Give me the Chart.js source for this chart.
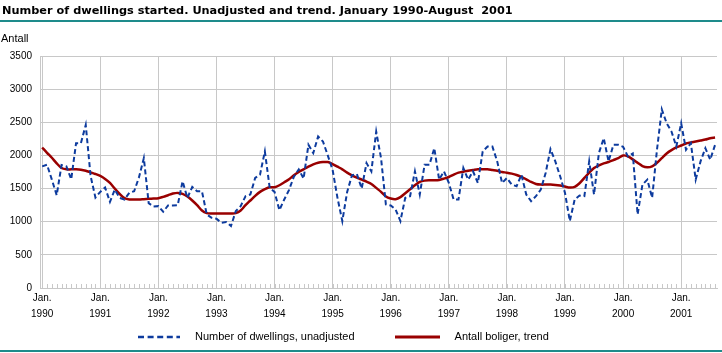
<!DOCTYPE html>
<html>
<head>
<meta charset="utf-8">
<script src="https://cdn.jsdelivr.net/npm/chart.js@4.4.1/dist/chart.umd.min.js"></script>
<style>
    html, body { margin: 0; padding: 0; background: #fff; }
    #wrap { position: relative; width: 722px; height: 353px; overflow: hidden; font-family: "Liberation Sans", Arial, sans-serif; color: #000; }
    #title { position: absolute; left: 2px; top: 4px; font-family: "DejaVu Sans", sans-serif; font-size: 11.3px; font-weight: bold; white-space: pre; }
    #ruleTop { position: absolute; left: 0; top: 20px; width: 722px; height: 2px; background: #1e8b8b; }
    #unit { position: absolute; left: 1px; top: 32px; font-size: 11px; }
    #ruleBottom { position: absolute; left: 0; top: 350px; width: 722px; height: 2px; background: #1e8b8b; }
    #chartBox { position: absolute; left: 0; top: 0; width: 722px; height: 353px; }
    #legend { position: absolute; left: 138px; top: 330px; display: flex; align-items: center; font-size: 11px; line-height: 13px; white-space: nowrap; }
    #legend svg { display: block; }
    #legend .gap { margin-left: 15px; }
    #legend .next { margin-left: 40px; }
</style>
</head>
<body>
<div id="wrap">
    <div id="chartBox"><canvas id="dwellings-chart"></canvas></div>
    <div id="title">Number of dwellings started. Unadjusted and trend. January 1990-August  2001</div>
    <div id="ruleTop"></div>
    <div id="unit">Antall</div>
    <div id="legend"></div>
    <div id="ruleBottom"></div>
</div>
<script>
// ==========================================
// DWELLINGS STARTED - UNADJUSTED AND TREND
// ==========================================

// Tick labels (one per January)
const yearLabels = ['1990', '1991', '1992', '1993', '1994', '1995', '1996', '1997', '1998', '1999', '2000', '2001'];
const monthLabel = 'Jan.';

// Series names
const seriesNames = ['Number of dwellings, unadjusted', 'Antall boliger, trend'];

// Monthly values, Jan 1990 - Aug 2001
const unadjusted = [
    1835, 1860, 1635, 1400, 1855, 1835, 1640, 2185, 2185, 2460, 1690, 1365, // 1990
    1450, 1515, 1300, 1485, 1360, 1335, 1435, 1460, 1670, 1960, 1280, 1230, // 1991
    1235, 1150, 1245, 1245, 1250, 1610, 1360, 1525, 1460, 1460, 1110, 1060, // 1992
    1045, 985, 995, 935, 1160, 1235, 1385, 1410, 1660, 1710, 2060, 1510,     // 1993
    1450, 1175, 1335, 1480, 1680, 1790, 1650, 2160, 2035, 2285, 2210, 2000, // 1994
    1780, 1360, 1010, 1450, 1700, 1720, 1500, 1885, 1760, 2360, 1960, 1260, // 1995
    1245, 1185, 1010, 1360, 1385, 1760, 1410, 1860, 1860, 2110, 1635, 1760, // 1996
    1585, 1335, 1335, 1810, 1635, 1760, 1585, 2060, 2135, 2135, 1910, 1585, // 1997
    1660, 1560, 1535, 1710, 1410, 1310, 1385, 1485, 1735, 2095, 1910, 1685, // 1998
    1435, 1010, 1335, 1395, 1385, 1910, 1410, 2035, 2260, 1910, 2160, 2160, // 1999
    2130, 1985, 2030, 1110, 1560, 1635, 1360, 2085, 2695, 2485, 2360, 2135, // 2000
    2485, 2085, 2185, 1635, 1910, 2110, 1935, 2160                          // 2001
];

const trend = [
    2120, 2040, 1965, 1880, 1810, 1790, 1790, 1790, 1785, 1770, 1745, 1720, // 1990
    1690, 1645, 1585, 1500, 1420, 1355, 1335, 1335, 1335, 1340, 1345, 1350, // 1991
    1355, 1375, 1400, 1425, 1435, 1420, 1380, 1320, 1250, 1170, 1130, 1125, // 1992
    1125, 1125, 1125, 1125, 1130, 1170, 1250, 1320, 1390, 1450, 1490, 1520, // 1993
    1520, 1550, 1595, 1640, 1700, 1750, 1790, 1830, 1865, 1890, 1900, 1900, // 1994
    1870, 1830, 1790, 1740, 1700, 1665, 1635, 1605, 1570, 1510, 1450, 1380, // 1995
    1350, 1340, 1370, 1430, 1490, 1550, 1600, 1620, 1625, 1625, 1630, 1650, // 1996
    1675, 1710, 1740, 1755, 1770, 1780, 1790, 1790, 1790, 1780, 1770, 1750, // 1997
    1740, 1725, 1705, 1675, 1640, 1600, 1570, 1560, 1560, 1560, 1555, 1545, // 1998
    1530, 1515, 1525, 1580, 1660, 1740, 1810, 1850, 1880, 1900, 1930, 1960, // 1999
    2000, 1985, 1940, 1890, 1840, 1820, 1835, 1890, 1960, 2030, 2080, 2120, // 2000
    2150, 2180, 2195, 2210, 2225, 2240, 2260, 2270                          // 2001
];

const gridColor = '#c8c8c8';
const tickFont = { family: '"Liberation Sans", Arial, sans-serif', size: 10 };

// Turn a monthly list into {x, y} points (x = month index from Jan 1990)
function toPoints(values) {
    return values.map((v, i) => ({ x: i, y: v }));
}

// Small monthly tick marks along the bottom axis
const monthTicks = {
    id: 'monthTicks',
    beforeDatasetsDraw(chart) {
        const ctx = chart.ctx;
        const xScale = chart.scales.x;
        const bottom = chart.chartArea.bottom;
        ctx.save();
        ctx.strokeStyle = gridColor;
        ctx.lineWidth = 1;
        ctx.beginPath();
        for (let i = 0; i < unadjusted.length; i++) {
            const px = Math.round(xScale.getPixelForValue(i)) + 0.5;
            ctx.moveTo(px, bottom);
            ctx.lineTo(px, bottom - 4);
        }
        ctx.stroke();
        ctx.restore();
    }
};

const chart = new Chart(document.getElementById('dwellings-chart'), {
    type: 'line',
    data: {
        datasets: [
            {
                label: seriesNames[0],
                data: toPoints(unadjusted),
                borderColor: '#0d3b9e',
                backgroundColor: '#0d3b9e',
                borderWidth: 2,
                borderDash: [5, 3],
                pointRadius: 0,
                tension: 0
            },
            {
                label: seriesNames[1],
                data: toPoints(trend),
                borderColor: '#990000',
                backgroundColor: '#990000',
                borderWidth: 2.5,
                pointRadius: 0,
                tension: 0.3
            }
        ]
    },
    options: {
        responsive: true,
        maintainAspectRatio: false,
        animation: false,
        devicePixelRatio: 1,
        layout: {
            padding: { top: 56, right: 5, bottom: 29, left: 0 }
        },
        scales: {
            x: {
                type: 'linear',
                min: -0.45,
                max: 139.4,
                afterBuildTicks(scale) {
                    scale.ticks = yearLabels.map((_, k) => ({ value: k * 12 }));
                },
                ticks: {
                    autoSkip: false,
                    maxRotation: 0,
                    padding: 2,
                    color: '#000',
                    font: { ...tickFont, lineHeight: 1.6 },
                    callback: (value) => [monthLabel, yearLabels[Math.round(value / 12)]]
                },
                grid: { color: gridColor, drawTicks: false },
                border: { color: gridColor }
            },
            y: {
                min: 0,
                max: 3500,
                afterFit(scale) { scale.width = 40; },
                ticks: {
                    stepSize: 500,
                    padding: 8,
                    color: '#000',
                    font: tickFont,
                    callback: (value) => String(value)
                },
                grid: { color: gridColor, drawTicks: false },
                border: { color: gridColor }
            }
        },
        plugins: {
            legend: { display: false },
            tooltip: { enabled: false }
        }
    },
    plugins: [monthTicks]
});

// Build the legend below the chart from the dataset styles
function buildLegend() {
    const legendEl = document.getElementById('legend');
    const widths = [42, 45];
    chart.data.datasets.forEach((ds, i) => {
        const w = widths[i];
        const dash = (ds.borderDash || []).map(d => d * 1.2).join(' ');
        const item = document.createElement('span');
        item.style.display = 'flex';
        item.style.alignItems = 'center';
        if (i > 0) item.className = 'next';
        item.innerHTML =
            '<svg width="' + w + '" height="6"><line x1="0" y1="3" x2="' + w + '" y2="3" stroke="' + ds.borderColor +
            '" stroke-width="' + (ds.borderWidth + 0.5) + '"' + (dash ? ' stroke-dasharray="' + dash + '"' : '') + '/></svg>' +
            '<span class="gap">' + ds.label + '</span>';
        legendEl.appendChild(item);
    });
}
buildLegend();
</script>
</body>
</html>
